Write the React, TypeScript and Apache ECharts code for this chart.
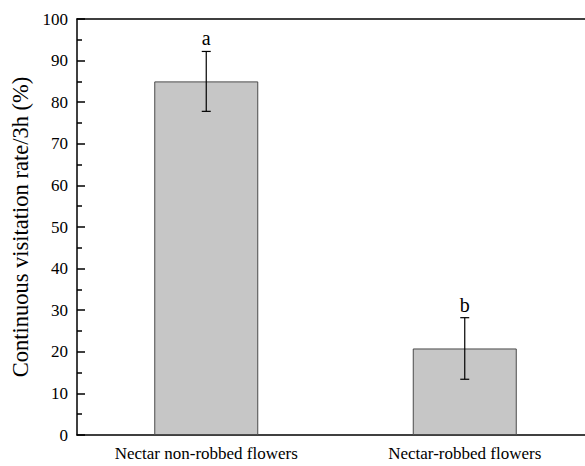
import React, { useEffect, useRef } from "react";
import * as echarts from "echarts";

const categories = ["Nectar non-robbed flowers", "Nectar-robbed flowers"];
const means = [85, 20.8];
const errors = [7.2, 7.4];
const letters = ["a", "b"];
const yTicks = { min: 0, max: 100, interval: 10 };

const FONT = "'Liberation Serif', 'Times New Roman', serif";

export default function App() {
  const ref = useRef<HTMLDivElement>(null);
  useEffect(() => {
    if (!ref.current) return;
    const chart = echarts.init(ref.current, null, { renderer: "svg" });
    const errData = categories.map((c, i) => [i, means[i] - errors[i], means[i] + errors[i]]);
    chart.setOption({
      animation: false,
      backgroundColor: "#ffffff",
      grid: {
        left: 77,
        top: 19,
        bottom: 31,
        right: 0,
        containLabel: false,
        outerBoundsMode: "none",
      },
      xAxis: [
        {
          type: "category",
          data: categories,
          axisLine: { lineStyle: { color: "#000", width: 1.5 } },
          axisTick: { alignWithLabel: true, inside: false, length: 8, lineStyle: { color: "#000", width: 1.5 } },
          axisLabel: { interval: 0, color: "#000", fontFamily: FONT, fontSize: 17, margin: 10 },
          splitLine: { show: false },
        },
        {
          type: "category",
          data: categories,
          position: "top",
          axisLine: { show: true, lineStyle: { color: "#000", width: 1.5 } },
          axisTick: { show: false },
          axisLabel: { show: false },
          splitLine: { show: false },
        },
      ],
      yAxis: {
        type: "value",
        min: yTicks.min,
        max: yTicks.max,
        interval: yTicks.interval,
        name: "Continuous visitation rate/3h (%)",
        nameLocation: "middle",
        nameRotate: 90,
        nameGap: 31,
        nameTextStyle: { color: "#000", fontFamily: FONT, fontSize: 22.5 },
        axisLine: { show: true, lineStyle: { color: "#000", width: 1.5 } },
        axisTick: { show: true, inside: true, length: 8, lineStyle: { color: "#000", width: 1.5 } },
        minorTick: { show: true, splitNumber: 2, length: 5, lineStyle: { color: "#000", width: 1.5 } },
        axisLabel: { color: "#000", fontFamily: FONT, fontSize: 17, margin: 9 },
        splitLine: { show: false },
      },
      series: [
        {
          type: "bar",
          data: means,
          barWidth: 104,
          itemStyle: { color: "#c6c6c6", borderColor: "#4a4a4a", borderWidth: 1 },
        },
        {
          type: "custom",
          data: errData,
          z: 10,
          renderItem: (params: any, api: any) => {
            const x = api.coord([api.value(0), 0])[0];
            const lo = api.coord([api.value(0), api.value(1)])[1];
            const hi = api.coord([api.value(0), api.value(2)])[1];
            const cap = 4.5;
            const style = { stroke: "#000", lineWidth: 1.2 };
            return {
              type: "group",
              children: [
                { type: "line", shape: { x1: x, y1: hi, x2: x, y2: lo }, style },
                { type: "line", shape: { x1: x - cap, y1: hi, x2: x + cap, y2: hi }, style },
                { type: "line", shape: { x1: x - cap, y1: lo, x2: x + cap, y2: lo }, style },
                {
                  type: "text",
                  x: x,
                  y: hi - 3,
                  style: {
                    text: letters[params.dataIndex],
                    fill: "#000",
                    font: `20px ${FONT}`,
                    align: "center",
                    verticalAlign: "bottom",
                  },
                },
              ],
            };
          },
        },
      ],
    });
    return () => chart.dispose();
  }, []);
  return (
    <div
      style={{ position: "absolute", left: 0, top: 0, width: 585, height: 466, overflow: "hidden", background: "#fff" }}
    >
      <div ref={ref} style={{ width: 594, height: 466 }} />
    </div>
  );
}
